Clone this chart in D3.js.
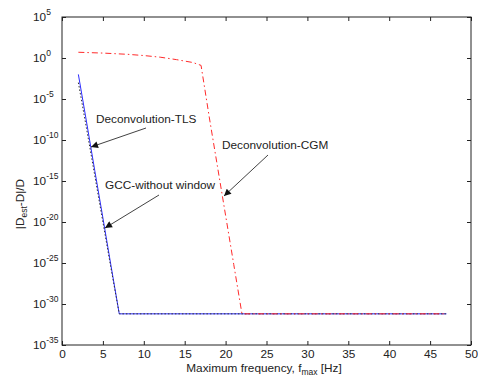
<!DOCTYPE html>
<html>
<head>
<meta charset="utf-8">
<script src="https://cdn.jsdelivr.net/npm/d3@7"></script>
<style>
  body { margin: 0; background: #fff; }
  svg text { font-family: "Liberation Sans", Arial, sans-serif; fill: #222; }
</style>
</head>
<body>
<svg id="chart" width="478" height="380"></svg>
<script>
// exponents (log10 of the relative error)
const tlsX = [2, 3, 4, 5, 6, 7, 47];
const tlsExp = [-2.0, -7.8, -13.7, -19.5, -25.4, -31.2, -31.2];

const gccX = [2, 3, 4, 5, 6, 7, 47];
const gccExp = [-3.0, -8.6, -14.3, -20.0, -25.7, -31.2, -31.2];

const cgmX = [2, 5, 8, 10, 12, 14, 16, 17, 18, 19, 20, 21, 22, 47];
const cgmExp = [0.7, 0.6, 0.45, 0.3, 0.1, -0.2, -0.55, -0.9, -7.2, -13.2, -19.2, -25.2, -31.2, -31.2];

const xTicks = [0, 5, 10, 15, 20, 25, 30, 35, 40, 45, 50];
const yTickExps = [5, 0, -5, -10, -15, -20, -25, -30, -35];

const margin = {left: 62, right: 7, top: 17, bottom: 35};
const width = 478, height = 380;
const fontSize = 11.8;
const svg = d3.select("#chart");

const x = d3.scaleLinear().domain([0, 50]).range([margin.left, width - margin.right]);
const y = d3.scaleLog().domain([1e-35, 1e5]).range([height - margin.bottom, margin.top]);

const tickLen = 4;
const axisColor = "#222";

// frame
svg.append("rect")
  .attr("x", margin.left).attr("y", margin.top)
  .attr("width", x(50) - x(0)).attr("height", y(1e-35) - y(1e5))
  .attr("fill", "none").attr("stroke", axisColor).attr("stroke-width", 1);

// x axis (ticks inward, bottom and top)
const xAxis = d3.axisBottom(x).tickValues(xTicks).tickSizeInner(-tickLen).tickSizeOuter(0).tickPadding(5);
const gx = svg.append("g").attr("transform", `translate(0,${y(1e-35)})`).call(xAxis);
gx.select(".domain").remove();
gx.selectAll("text").attr("font-size", fontSize).style("font-family", "Liberation Sans, Arial, sans-serif").attr("fill", "#222");
gx.selectAll("line").attr("stroke", axisColor);

svg.append("g").attr("transform", `translate(0,${y(1e5)})`)
  .call(d3.axisTop(x).tickValues(xTicks).tickSizeInner(-tickLen).tickSizeOuter(0).tickFormat(""))
  .call(g => g.select(".domain").remove())
  .selectAll("line").attr("stroke", axisColor);

// y axis
const yVals = yTickExps.map(e => Math.pow(10, e));
const gy = svg.append("g").attr("transform", `translate(${x(0)},0)`)
  .call(d3.axisLeft(y).tickValues(yVals).tickSizeInner(-tickLen).tickSizeOuter(0).tickFormat(""));
gy.select(".domain").remove();
gy.selectAll("line").attr("stroke", axisColor);

svg.append("g").attr("transform", `translate(${x(50)},0)`)
  .call(d3.axisRight(y).tickValues(yVals).tickSizeInner(-tickLen).tickSizeOuter(0).tickFormat(""))
  .call(g => g.select(".domain").remove())
  .selectAll("line").attr("stroke", axisColor);

// y tick labels 10^e
yTickExps.forEach(e => {
  const t = svg.append("text")
    .attr("x", 33).attr("y", y(Math.pow(10, e)) + 4)
    .attr("font-size", fontSize);
  t.append("tspan").text("10");
  t.append("tspan").attr("dy", -6).attr("font-size", 8.5).text(e);
});

// curves
const line = d3.line().x(d => x(d[0])).y(d => y(Math.pow(10, d[1])));

svg.append("path").datum(d3.zip(tlsX, tlsExp))
  .attr("d", line).attr("fill", "none").attr("stroke", "#2b2bff").attr("stroke-width", 1);

svg.append("path").datum(d3.zip(gccX, gccExp))
  .attr("d", line).attr("fill", "none").attr("stroke", "#333").attr("stroke-width", 1)
  .attr("stroke-dasharray", "1.5,2");

svg.append("path").datum(d3.zip(cgmX, cgmExp))
  .attr("d", line).attr("fill", "none").attr("stroke", "#ff2a2a").attr("stroke-width", 1)
  .attr("stroke-dasharray", "6,3,1.5,3");

// annotations
const defs = svg.append("defs");
defs.append("marker").attr("id", "arrow")
  .attr("viewBox", "0 0 10 10").attr("refX", 10).attr("refY", 5)
  .attr("markerWidth", 9).attr("markerHeight", 7).attr("orient", "auto")
  .attr("markerUnits", "userSpaceOnUse")
  .append("path").attr("d", "M0,0 L10,5 L0,10 z").attr("fill", "#111");

const notes = [
  {text: "Deconvolution-TLS", tx: 96, ty: 123, from: [146, 128], to: [91, 147]},
  {text: "GCC-without window", tx: 105, ty: 189, from: [159, 195], to: [105, 228]},
  {text: "Deconvolution-CGM", tx: 222, ty: 149, from: [268, 155], to: [224, 196]}
];
notes.forEach(n => {
  svg.append("text").attr("x", n.tx).attr("y", n.ty).attr("font-size", fontSize).text(n.text);
  svg.append("line")
    .attr("x1", n.from[0]).attr("y1", n.from[1]).attr("x2", n.to[0]).attr("y2", n.to[1])
    .attr("stroke", "#111").attr("stroke-width", 0.8).attr("marker-end", "url(#arrow)");
});

// axis titles
const xt = svg.append("text").attr("x", 264).attr("y", 372).attr("text-anchor", "middle").attr("font-size", fontSize);
xt.append("tspan").text("Maximum frequency, f");
xt.append("tspan").attr("dy", 3).attr("font-size", 8.5).text("max");
xt.append("tspan").attr("dy", -3).text(" [Hz]");

const yt = svg.append("text").attr("transform", "translate(24,204) rotate(-90)")
  .attr("text-anchor", "middle").attr("font-size", fontSize);
yt.append("tspan").text("|D");
yt.append("tspan").attr("dy", 3).attr("font-size", 8.5).text("est");
yt.append("tspan").attr("dy", -3).text("-D|/D");
</script>
</body>
</html>
